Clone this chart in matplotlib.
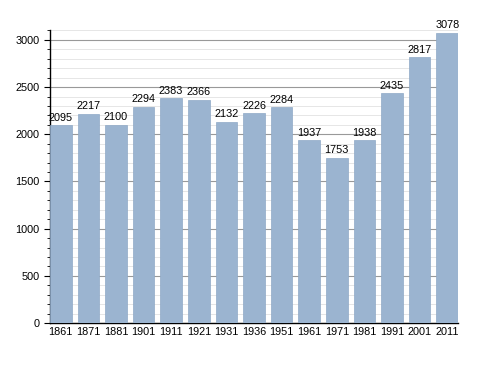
import matplotlib
matplotlib.use('Agg')
import matplotlib.pyplot as plt
from matplotlib.ticker import MultipleLocator

plt.rcParams['font.family'] = ['Liberation Sans', 'DejaVu Sans']

# census years and population
years = ['1861', '1871', '1881', '1901', '1911', '1921', '1931', '1936',
         '1951', '1961', '1971', '1981', '1991', '2001', '2011']
population = [2095, 2217, 2100, 2294, 2383, 2366, 2132, 2226,
              2284, 1937, 1753, 1938, 2435, 2817, 3078]

fig = plt.figure(figsize=(4.88, 3.73), dpi=100)
ax = fig.add_axes([50 / 488, 50 / 373, 408 / 488, 293 / 373])

w = 0.78
x = range(len(years))
ax.bar(x, population, width=w, color='#9bb4d0', edgecolor='#8fa9c6', linewidth=0.5, zorder=3)

for i, v in enumerate(population):
    ax.text(i, v + 25, str(v), ha='center', va='bottom', fontsize=7.8, zorder=4)

ax.set_xlim(-w / 2, len(years) - 1 + w / 2)
ax.set_ylim(0, 3105)
ax.set_xticks(list(x))
ax.set_xticklabels(years, fontsize=7.8)
ax.tick_params(axis='x', length=0, pad=3)

# grid: major every 500, minor every 100
ax.yaxis.set_major_locator(MultipleLocator(500))
ax.yaxis.set_minor_locator(MultipleLocator(100))
ax.tick_params(axis='y', which='major', labelsize=7.8, length=4, direction='out')
ax.tick_params(axis='y', which='minor', length=2, direction='out')
ax.grid(axis='y', which='major', color='#999999', linewidth=0.8, zorder=0)
ax.grid(axis='y', which='minor', color='#e2e2e2', linewidth=0.6, zorder=0)

ax.spines['top'].set_visible(False)
ax.spines['right'].set_visible(False)
ax.spines['left'].set_linewidth(1)
ax.spines['bottom'].set_linewidth(1)

fig.savefig('out.png', dpi=100)
